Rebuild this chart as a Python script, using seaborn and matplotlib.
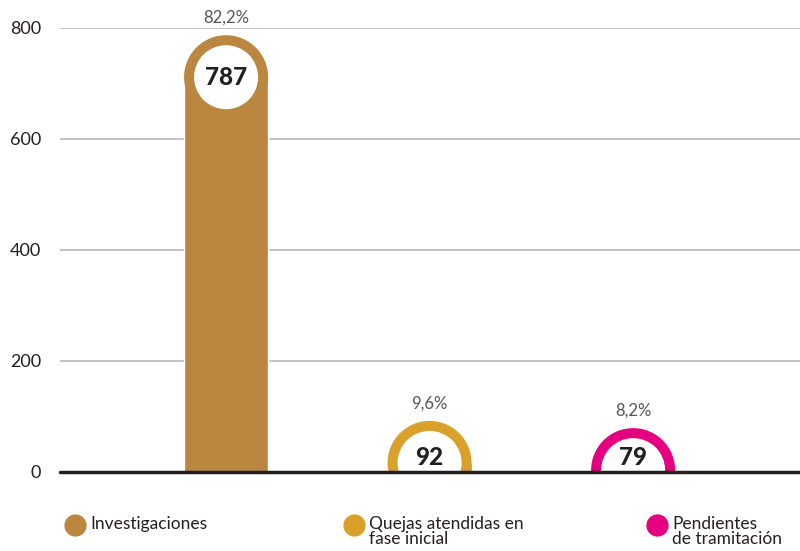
import matplotlib
matplotlib.use("Agg")
import matplotlib.pyplot as plt
from matplotlib.patches import Ellipse
from matplotlib.lines import Line2D
import pandas as pd
import seaborn as sns

# Data
categories = ["Investigaciones", "Quejas atendidas en\nfase inicial", "Pendientes\nde tramitación"]
counts = [787, 92, 79]
shares = ["82,2%", "9,6%", "8,2%"]
colors = ["#BB8740", "#DAA02C", "#E4007F"]
y_ticks = [0, 200, 400, 600, 800]

sns.set_style("white")
plt.rcParams["font.family"] = ["Lato", "DejaVu Sans"]

df = pd.DataFrame({"categoria": categories, "total": counts})

fig = plt.figure(figsize=(8, 5.51), dpi=100)
ax = fig.add_axes([0.075, 0.1434, 0.925, 0.8058])

sns.barplot(data=df, x="categoria", y="total", hue="categoria",
            palette=colors, width=0.413, legend=False, ax=ax, saturation=1)

ax.set_xlim(-0.816, 2.82)
ax.set_ylim(0, 800)

# rounded top: radius in data units along y (42 px out of 444 px for 800 units)
px_per_unit = 444 / 800
ry = 42 / px_per_unit
inner = 32 / 42

for patch, value, share, color in zip(ax.patches, counts, shares, colors):
    x0 = patch.get_x()
    w = patch.get_width()
    cx = x0 + w / 2
    cy = value - ry
    patch.set_height(max(cy, 0))
    ax.add_patch(Ellipse((cx, cy), w, 2 * ry, facecolor=color, edgecolor="none", zorder=3))
    ax.add_patch(Ellipse((cx, cy), w * inner, 2 * ry * inner, facecolor="white",
                         edgecolor="none", zorder=4))
    ax.text(cx, max(cy, 0.35 * ry), str(value), ha="center", va="center",
            fontsize=17.5, fontweight="black", color="#231F20", zorder=5)
    ax.text(cx, value + 32, share, ha="center", va="center", fontsize=12,
            color="#555555", clip_on=False, zorder=5)

ax.set_yticks(y_ticks)
ax.set_yticklabels([str(t) for t in y_ticks], fontsize=13, color="#231F20")
ax.tick_params(axis="y", length=0, pad=13.5)
ax.set_xticks([])
ax.set_xlabel("")
ax.set_ylabel("")
for t in y_ticks[1:]:
    ax.axhline(t, color="#BDBDBD", lw=1.3, zorder=0)
ax.axhline(0, color="#231F20", lw=2.5, zorder=6, clip_on=False)
sns.despine(ax=ax, left=True, bottom=True)

# legend drawn by hand below the axis
legend_x = [0.094, 0.4425, 0.821]
for lx, label, color in zip(legend_x, categories, colors):
    fig.add_artist(Line2D([lx], [1 - 525 / 551], marker="o", markersize=15,
                          color=color, transform=fig.transFigure))
    fig.text(lx + 0.019, 1 - 516 / 551, label, ha="left", va="top",
             fontsize=12.5, color="#231F20", linespacing=0.95)

fig.savefig("out.png", dpi=100)
